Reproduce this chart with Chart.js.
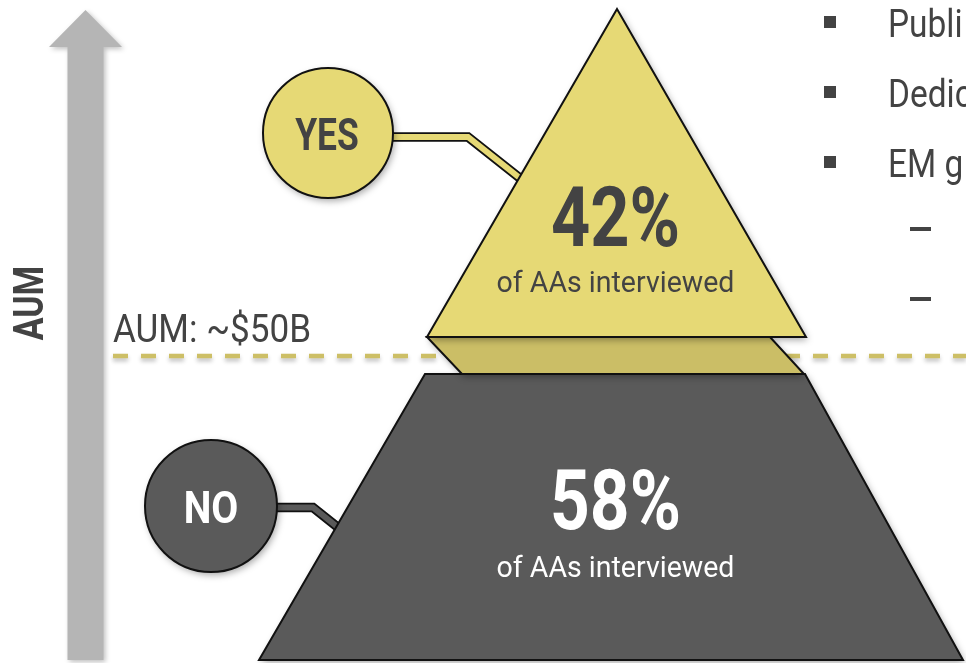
<!DOCTYPE html>
<html>
<head>
<meta charset="utf-8">
<script src="https://cdn.jsdelivr.net/npm/chart.js@4/dist/chart.umd.min.js"></script>
<style>
  html, body { margin: 0; padding: 0; background: #ffffff; }
  #wrap { width: 966px; height: 663px; }
</style>
</head>
<body>
<div id="wrap"><canvas id="pyramid" width="966" height="663"></canvas></div>
<script>
// ---- data ----
const categories = ['YES', 'NO'];
const shares = [42, 58];
const shareCaption = 'of AAs interviewed';
const axisTitle = 'AUM';
const thresholdLabel = 'AUM: ~$50B';
const sideNotes = ['Publi', 'Dedic', 'EM g'];
const sideSubNotes = ['–', '–'];

// ---- diagram layout (in scale units, 0..966 across, 0..663 down) ----
const LAYOUT = {
  apex: [617, 9],
  topBaseL: [427, 337], topBaseR: [806, 337],
  foldTopR: [770, 337], foldBotL: [462, 374], foldBotR: [804, 374],
  lowTopL: [425, 374], lowTopR: [805, 374], lowBotL: [259, 660], lowBotR: [963, 660],
  thresholdY: 356,
  arrow: { tipY: 10, headY: 47, bottomY: 660, cx: 85.5, shaftHalf: 18, headHalf: 36.5 },
  circles: [
    { c: [328, 133], r: 65, path: [[393, 137], [468, 137], [540, 194]] },
    { c: [211, 506], r: 66, path: [[275, 507.5], [313, 507.5], [350, 537]] }
  ]
};
const COLORS = {
  yes: '#e6d975', fold: '#cbbe66', no: '#5a5a5a', arrow: '#b5b5b5',
  text: '#434343', dash: '#cdbf66', edge: '#111111'
};

function fitText(ctx, str, x, y, size, weight, color, target, align, sxDefault) {
  ctx.save();
  ctx.font = weight + ' ' + size + 'px Roboto, "Liberation Sans", sans-serif';
  let sx = sxDefault || 1;
  if (target) {
    const m = ctx.measureText(str);
    const w = m.actualBoundingBoxLeft + m.actualBoundingBoxRight;
    sx = target / w;
  }
  ctx.translate(x, y);
  ctx.scale(sx, 1);
  ctx.textAlign = align || 'center';
  ctx.textBaseline = 'alphabetic';
  ctx.fillStyle = color;
  ctx.fillText(str, 0, 0);
  ctx.restore();
}

const diagramPlugin = {
  id: 'pyramidDiagram',
  afterDatasetsDraw(chart) {
    const ctx = chart.ctx;
    const xs = chart.scales.x, ys = chart.scales.y;
    const P = p => [xs.getPixelForValue(p[0]), ys.getPixelForValue(p[1])];
    const X = v => xs.getPixelForValue(v), Y = v => ys.getPixelForValue(v);

    function poly(pts, fill, shadow) {
      ctx.save();
      if (shadow) {
        ctx.shadowColor = 'rgba(0,0,0,0.35)';
        ctx.shadowBlur = 7; ctx.shadowOffsetX = 2; ctx.shadowOffsetY = 3;
      }
      ctx.beginPath();
      pts.forEach((p, i) => { const q = P(p); i ? ctx.lineTo(q[0], q[1]) : ctx.moveTo(q[0], q[1]); });
      ctx.closePath();
      ctx.fillStyle = fill; ctx.fill();
      ctx.shadowColor = 'transparent';
      ctx.lineWidth = 2; ctx.strokeStyle = COLORS.edge; ctx.lineJoin = 'miter';
      ctx.stroke();
      ctx.restore();
    }

    // vertical AUM arrow
    const a = LAYOUT.arrow;
    ctx.save();
    ctx.shadowColor = 'rgba(0,0,0,0.25)'; ctx.shadowBlur = 5; ctx.shadowOffsetX = 2; ctx.shadowOffsetY = 2;
    ctx.beginPath();
    ctx.moveTo(X(a.cx), Y(a.tipY));
    ctx.lineTo(X(a.cx + a.headHalf), Y(a.headY));
    ctx.lineTo(X(a.cx + a.shaftHalf), Y(a.headY));
    ctx.lineTo(X(a.cx + a.shaftHalf), Y(a.bottomY));
    ctx.lineTo(X(a.cx - a.shaftHalf), Y(a.bottomY));
    ctx.lineTo(X(a.cx - a.shaftHalf), Y(a.headY));
    ctx.lineTo(X(a.cx - a.headHalf), Y(a.headY));
    ctx.closePath();
    ctx.fillStyle = COLORS.arrow; ctx.fill();
    ctx.restore();

    // axis title, rotated
    ctx.save();
    ctx.translate(X(43), Y(303));
    ctx.rotate(-Math.PI / 2);
    fitText(ctx, axisTitle, 0, 0, 42, 700, COLORS.text, 73, 'center');
    ctx.restore();

    // threshold dashed line
    ctx.save();
    ctx.shadowColor = 'rgba(0,0,0,0.25)'; ctx.shadowBlur = 4; ctx.shadowOffsetY = 3;
    ctx.setLineDash([15, 13]);
    ctx.lineWidth = 4.5; ctx.strokeStyle = COLORS.dash;
    ctx.beginPath(); ctx.moveTo(X(113), Y(LAYOUT.thresholdY)); ctx.lineTo(X(966), Y(LAYOUT.thresholdY)); ctx.stroke();
    ctx.restore();
    fitText(ctx, thresholdLabel, X(113), Y(342), 39, 400, COLORS.text, 197, 'left');

    // callout connectors (drawn under the shapes)
    const fills = [COLORS.yes, COLORS.no];
    LAYOUT.circles.forEach((c, i) => {
      ctx.save();
      ctx.lineJoin = 'miter'; ctx.lineCap = 'butt';
      ctx.beginPath();
      c.path.forEach((p, k) => { const q = P(p); k ? ctx.lineTo(q[0], q[1]) : ctx.moveTo(q[0], q[1]); });
      ctx.lineWidth = 9.5; ctx.strokeStyle = COLORS.edge; ctx.stroke();
      ctx.lineWidth = 6; ctx.strokeStyle = fills[i]; ctx.stroke();
      ctx.restore();
    });

    // pyramid: lower tier, fold, upper tier
    const L = LAYOUT;
    poly([L.lowTopL, L.lowTopR, L.lowBotR, L.lowBotL], COLORS.no, true);
    poly([L.topBaseL, L.foldTopR, L.foldBotR, L.foldBotL], COLORS.fold, true);
    poly([L.apex, L.topBaseR, L.topBaseL], COLORS.yes, true);

    // callout circles
    LAYOUT.circles.forEach((c, i) => {
      const q = P(c.c);
      const r = xs.getPixelForValue(c.r) - xs.getPixelForValue(0);
      ctx.save();
      ctx.shadowColor = 'rgba(0,0,0,0.35)'; ctx.shadowBlur = 7; ctx.shadowOffsetX = 2; ctx.shadowOffsetY = 3;
      ctx.beginPath(); ctx.arc(q[0], q[1], r, 0, Math.PI * 2);
      ctx.fillStyle = fills[i]; ctx.fill();
      ctx.shadowColor = 'transparent';
      ctx.lineWidth = 2; ctx.strokeStyle = COLORS.edge; ctx.stroke();
      ctx.restore();
    });
    fitText(ctx, categories[0], X(327), Y(150), 45, 700, COLORS.text, 63, 'center');
    fitText(ctx, categories[1], X(211), Y(523), 45, 700, '#ffffff', 52, 'center');

    // share figures
    fitText(ctx, shares[0] + '%', X(615.5), Y(246), 84, 700, COLORS.text, 125, 'center');
    fitText(ctx, shareCaption, X(615.5), Y(292), 30, 400, COLORS.text, 235, 'center');
    fitText(ctx, shares[1] + '%', X(615.5), Y(529), 84, 700, '#ffffff', 125, 'center');
    fitText(ctx, shareCaption, X(615.5), Y(577), 30, 400, '#ffffff', 235, 'center');

    // side notes
    const noteY = [37, 107, 177];
    sideNotes.forEach((s, i) => {
      ctx.fillStyle = COLORS.text;
      ctx.fillRect(X(824), Y(noteY[i] - 21), 12, 12);
      fitText(ctx, s, X(888), Y(noteY[i]), 38, 400, COLORS.text, null, 'left', 0.88);
    });
    [229, 299].forEach((y, i) => {
      ctx.fillStyle = COLORS.text;
      ctx.fillRect(X(910), Y(y - 2), 21, 4);
    });
  }
};

new Chart(document.getElementById('pyramid'), {
  type: 'scatter',
  data: {
    labels: categories,
    datasets: [{ label: 'Share', data: [], pointRadius: 0 }]
  },
  options: {
    responsive: false,
    animation: false,
    layout: { padding: 0 },
    plugins: { legend: { display: false }, tooltip: { enabled: false } },
    scales: {
      x: { type: 'linear', min: 0, max: 966, display: false },
      y: { type: 'linear', min: 0, max: 663, reverse: true, display: false }
    }
  },
  plugins: [diagramPlugin]
});
</script>
</body>
</html>
